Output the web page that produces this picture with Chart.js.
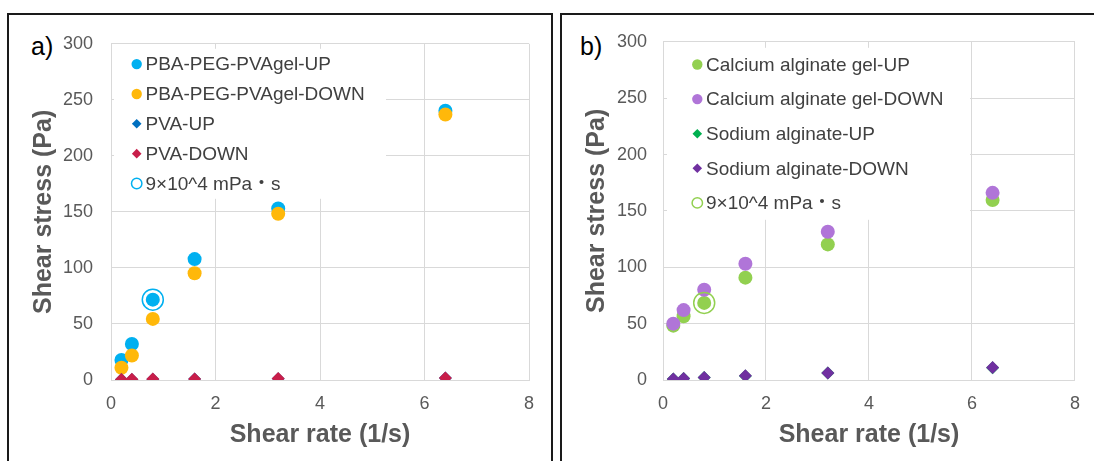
<!DOCTYPE html>
<html>
<head>
<meta charset="utf-8">
<script src="https://cdn.jsdelivr.net/npm/chart.js@4"></script>
<style>
  html, body { margin: 0; padding: 0; background: #fff; overflow: hidden; }
  body { width: 1094px; height: 461px; position: relative; font-family: "Liberation Sans", Arial, sans-serif; }
  .panel { position: absolute; top: 13px; height: 520px; border: 2px solid #1a1a1a; box-sizing: border-box; }
  #panelA { left: 7px; width: 546px; }
  #panelB { left: 560px; width: 600px; }
  .tag { position: absolute; top: 34px; font-size: 25px; line-height: 25px; color: #000; }
  canvas { position: absolute; top: 15px; }
</style>
</head>
<body>
<div class="panel" id="panelA"></div>
<div class="panel" id="panelB"></div>
<div class="tag" style="left:31px">a)</div>
<div class="tag" style="left:580px">b)</div>
<canvas id="chartA" width="540" height="446" style="left:10px"></canvas>
<canvas id="chartB" width="530" height="446" style="left:563px"></canvas>
<script>
'use strict';

var shearRate = [0.2, 0.4, 0.8, 1.6, 3.2, 6.4];

// panel a
var pbaUp = [17.8, 32.1, 71.7, 107.9, 153.0, 240.3];
var pbaDown = [10.9, 21.8, 54.5, 95.3, 148.4, 236.9];
var pvaUp = [0.4, 0.5, 0.7, 0.9, 1.2, 1.7];
var pvaDown = [0.5, 0.6, 0.8, 1.0, 1.3, 1.8];
var refPointA = [0.8, 71.7];   // 9x10^4 mPa·s

// panel b
var caUp = [48.2, 56.6, 68.4, 90.8, 120.3, 159.7];
var caDown = [50.0, 62.0, 80.1, 103.1, 131.5, 166.0];
var naUp = [0.8, 1.3, 2.2, 3.6, 6.2, 10.8];
var naDown = [0.9, 1.4, 2.3, 3.7, 6.3, 11.0];
var refPointB = [0.8, 68.4];

var xTicks = [0, 2, 4, 6, 8];
var yTicks = [0, 50, 100, 150, 200, 250, 300];

Chart.defaults.font.family = "'Liberation Sans', Arial, sans-serif";

function toPoints(xs, ys) {
  return xs.map(function(x, i) { return {x: x, y: ys[i]}; });
}

function series(label, ys, color, style, order) {
  return {
    label: label,
    data: toPoints(shearRate, ys),
    pointStyle: style,
    pointRadius: style === 'circle' ? 7 : 6.5,
    backgroundColor: color,
    borderColor: color,
    borderWidth: 0,
    order: order
  };
}

function ring(label, pt, color) {
  return {
    label: label,
    data: [{x: pt[0], y: pt[1]}],
    pointStyle: 'circle',
    pointRadius: 10.5,
    backgroundColor: 'rgba(0,0,0,0)',
    borderColor: color,
    borderWidth: 1.5,
    isRing: true,
    order: 0
  };
}

// legend drawn inside the plot on a white box
var insideLegend = {
  id: 'insideLegend',
  beforeDatasetsDraw: function(chart, args, opts) {
    var ctx = chart.ctx;
    var area = chart.chartArea;
    ctx.save();
    ctx.fillStyle = '#fff';
    ctx.fillRect(area.left + opts.box[0], area.top + opts.box[1], opts.box[2], opts.box[3]);
    ctx.font = "19px 'Liberation Sans', 'Noto Sans CJK JP', sans-serif";
    ctx.textBaseline = 'middle';
    ctx.textAlign = 'left';
    chart.data.datasets.forEach(function(ds, i) {
      var y = area.top + opts.firstRow + i * opts.rowGap;
      var x = area.left + opts.markerX;
      ctx.beginPath();
      if (ds.pointStyle === 'circle') {
        ctx.arc(x, y, 5.2, 0, Math.PI * 2);
      } else {
        ctx.moveTo(x - 4.8, y);
        ctx.lineTo(x, y - 4.8);
        ctx.lineTo(x + 4.8, y);
        ctx.lineTo(x, y + 4.8);
        ctx.closePath();
      }
      if (ds.isRing) {
        ctx.lineWidth = 1.5;
        ctx.strokeStyle = ds.borderColor;
        ctx.stroke();
      } else {
        ctx.fillStyle = ds.backgroundColor;
        ctx.fill();
      }
      ctx.fillStyle = '#404040';
      ctx.fillText(ds.label, area.left + opts.textX, y + 1);
    });
    ctx.restore();
  }
};

function makeOptions(p) {
  return {
    responsive: false,
    animation: false,
    layout: {padding: {left: 0, top: 17, right: p.rightPad, bottom: 0}},
    scales: {
      x: {
        type: 'linear',
        min: xTicks[0],
        max: xTicks[xTicks.length - 1],
        ticks: {stepSize: xTicks[1] - xTicks[0], padding: 13, color: '#595959', font: {size: 18}},
        grid: {color: '#D9D9D9', drawTicks: false},
        border: {color: '#D9D9D9'},
        title: {display: true, text: 'Shear rate (1/s)', color: '#595959',
                font: {size: 25, weight: 'bold'}, padding: {top: 0, bottom: 11}},
        afterFit: function(s) { s.height = 81; }
      },
      y: {
        type: 'linear',
        min: yTicks[0],
        max: yTicks[yTicks.length - 1],
        ticks: {stepSize: yTicks[1] - yTicks[0], padding: p.yPad, color: '#595959', font: {size: 18}},
        grid: {color: '#D9D9D9', drawTicks: false},
        border: {color: '#D9D9D9'},
        title: {display: true, text: 'Shear stress (Pa)', color: '#595959',
                font: {size: 25, weight: 'bold'}, padding: {top: 19, bottom: 0}},
        afterFit: function(s) { s.width = p.yWidth; }
      }
    },
    plugins: {
      legend: {display: false},
      tooltip: {enabled: false},
      insideLegend: p.legend
    }
  };
}

new Chart(document.getElementById('chartA'), {
  type: 'scatter',
  data: {
    datasets: [
      series('PBA-PEG-PVAgel-UP', pbaUp, '#00B0F0', 'circle', 4),
      series('PBA-PEG-PVAgel-DOWN', pbaDown, '#FFB80A', 'circle', 3),
      series('PVA-UP', pvaUp, '#0070C0', 'rectRot', 2),
      series('PVA-DOWN', pvaDown, '#C81E4A', 'rectRot', 1),
      ring('9×10^4 mPa・s', refPointA, '#00B0F0')
    ]
  },
  options: makeOptions({
    rightPad: 21, yWidth: 101, yPad: 18,
    legend: {box: [3, 5, 272, 150], firstRow: 20.3, rowGap: 29.85, markerX: 25.7, textX: 34.5}
  }),
  plugins: [insideLegend]
});

new Chart(document.getElementById('chartB'), {
  type: 'scatter',
  data: {
    datasets: [
      series('Calcium alginate gel-UP', caUp, '#92D050', 'circle', 4),
      series('Calcium alginate gel-DOWN', caDown, '#B075D8', 'circle', 3),
      series('Sodium alginate-UP', naUp, '#00B050', 'rectRot', 2),
      series('Sodium alginate-DOWN', naDown, '#7030A0', 'rectRot', 1),
      ring('9×10^4 mPa・s', refPointB, '#92D050')
    ]
  },
  options: makeOptions({
    rightPad: 11, yWidth: 100, yPad: 16,
    legend: {box: [4, 6, 303, 172], firstRow: 22.7, rowGap: 34.6, markerX: 34.3, textX: 43}
  }),
  plugins: [insideLegend]
});
</script>
</body>
</html>
